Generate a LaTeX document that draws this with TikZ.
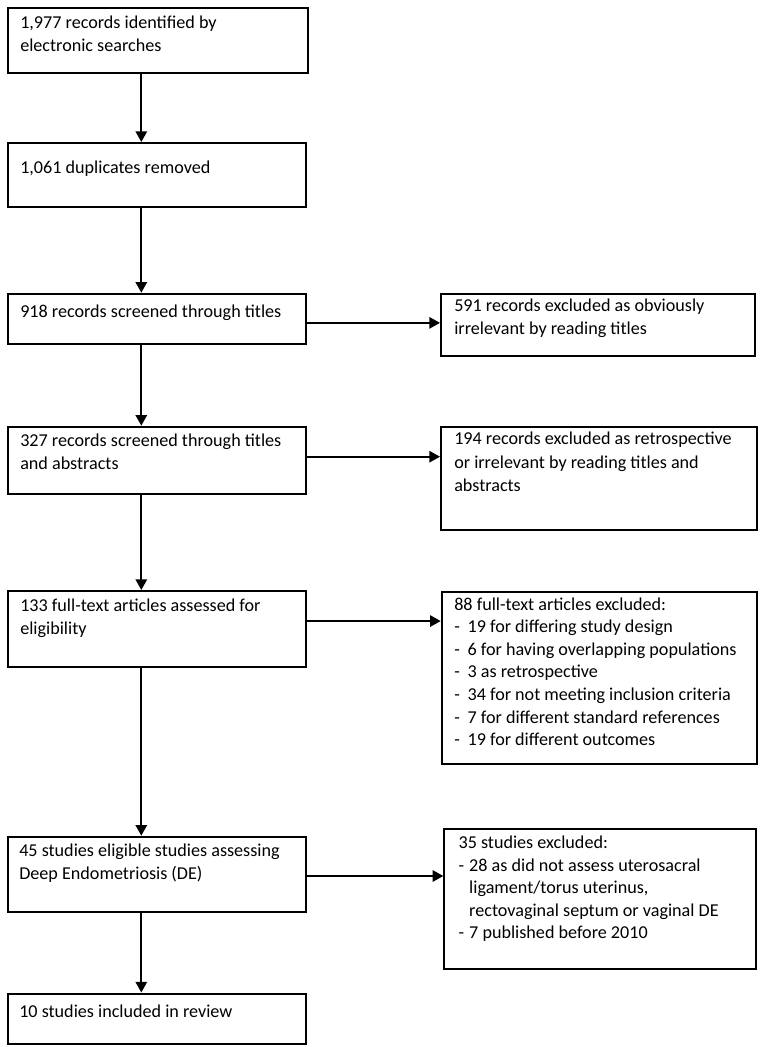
\documentclass[tikz,border=0pt]{standalone}
\usepackage{fontspec}
\setmainfont{Carlito}
\usetikzlibrary{arrows.meta,calc}

\tikzset{
  box/.style={draw, line width=1.5pt, rectangle, inner sep=0pt, anchor=north west},
  txt/.style={anchor=north west, inner sep=0pt, align=left,
    font=\fontsize{13.6}{17.4}\selectfont, execute at begin node=\strut},
  txtlist/.style={txt, font=\fontsize{13.6}{16.9}\selectfont},
  arr/.style={line width=1.5pt, -{Triangle[length=8pt,width=8.5pt]}},
}
\newcommand{\dashitem}[1]{\makebox[#1][l]{-}}

\begin{document}
\begin{tikzpicture}[x=0.75pt,y=0.75pt,yscale=-1,xscale=1]

\useasboundingbox (0,0) rectangle (760,1047);

% left column
\node[box, minimum width=300.5*0.75pt, minimum height=65*0.75pt] (ident) at (6.5,7) {};
\node[box, minimum width=298.5*0.75pt, minimum height=64*0.75pt] (dupl) at (6.5,142) {};
\node[box, minimum width=298.5*0.75pt, minimum height=50.3*0.75pt] (titles) at (6.5,292.7) {};
\node[box, minimum width=298.5*0.75pt, minimum height=67*0.75pt] (abstr) at (6.5,425.7) {};
\node[box, minimum width=298.5*0.75pt, minimum height=75.5*0.75pt] (fulltext) at (6.5,590) {};
\node[box, minimum width=298.5*0.75pt, minimum height=75*0.75pt] (eligible) at (6.5,835.7) {};
\node[box, minimum width=298.5*0.75pt, minimum height=50.8*0.75pt] (incl) at (6.5,992.5) {};

% right column
\node[box, minimum width=314.3*0.75pt, minimum height=62.3*0.75pt] (exA) at (440,292.7) {};
\node[box, minimum width=316*0.75pt, minimum height=102.8*0.75pt] (exB) at (440,425.7) {};
\node[box, minimum width=315.3*0.75pt, minimum height=172*0.75pt] (exC) at (440.7,590.7) {};
\node[box, minimum width=311.4*0.75pt, minimum height=140*0.75pt] (exD) at (443.3,828.3) {};

% texts
\node[txt] (identtxt) at (20,15.5) {1,977 records identified by\\electronic searches};
\node[txt] (dupltxt) at (20,156.8) {1,061 duplicates removed};
\node[txt] (titlestxt) at (20,300.5) {918 records screened through titles};
\node[txt] (abstrtxt) at (20,433.8) {327 records screened through titles\\and abstracts};
\node[txt] (fulltexttxt) at (20,598.8) {133 full-text articles assessed for\\eligibility};
\node[txt] (eligibletxt) at (19,843.8) {45 studies eligible studies assessing\\Deep Endometriosis (DE)};
\node[txt] (incltxt) at (19,1000.5) {10 studies included in review};

\node[txt] (exAtxt) at (454,298.8) {591 records excluded as obviously\\irrelevant by reading titles};
\node[txt] (exBtxt) at (454,432.1) {194 records excluded as retrospective\\or irrelevant by reading titles and\\abstracts};
\node[txtlist] (exCtxt) at (454,597.5) {88 full-text articles excluded:\\
  \dashitem{10pt}19 for differing study design\\
  \dashitem{10pt}6 for having overlapping populations\\
  \dashitem{10pt}3 as retrospective\\
  \dashitem{10pt}34 for not meeting inclusion criteria\\
  \dashitem{10pt}7 for different standard references\\
  \dashitem{10pt}19 for different outcomes};
\node[txtlist] (exDtxt) at (458.3,835.9) {35 studies excluded:\\
  \dashitem{8pt}28 as did not assess uterosacral\\
  \hspace*{8pt}ligament/torus uterinus,\\
  \hspace*{8pt}rectovaginal septum or vaginal DE\\
  \dashitem{8pt}7 published before 2010};

% connectors
\coordinate (axis) at (141.3,0);
\draw[arr] (ident.south -| axis) -- (dupl.north -| axis);
\draw[arr] (dupl.south -| axis) -- (titles.north -| axis);
\draw[arr] (titles.south -| axis) -- (abstr.north -| axis);
\draw[arr] (abstr.south -| axis) -- (fulltext.north -| axis);
\draw[arr] (fulltext.south -| axis) -- (eligible.north -| axis);
\draw[arr] (eligible.south -| axis) -- (incl.north -| axis);

\draw[arr] ($(titles.east)+(0,4)$) -- ($(titles.east -| exA.west)+(0,4)$);
\draw[arr] ($(abstr.east)+(0,-3.5)$) -- ($(abstr.east -| exB.west)+(0,-3.5)$);
\draw[arr] ($(fulltext.east)+(0,-7.7)$) -- ($(fulltext.east -| exC.west)+(0,-7.7)$);
\draw[arr] ($(eligible.east)+(0,1.8)$) -- ($(eligible.east -| exD.west)+(0,1.8)$);

\end{tikzpicture}
\end{document}
